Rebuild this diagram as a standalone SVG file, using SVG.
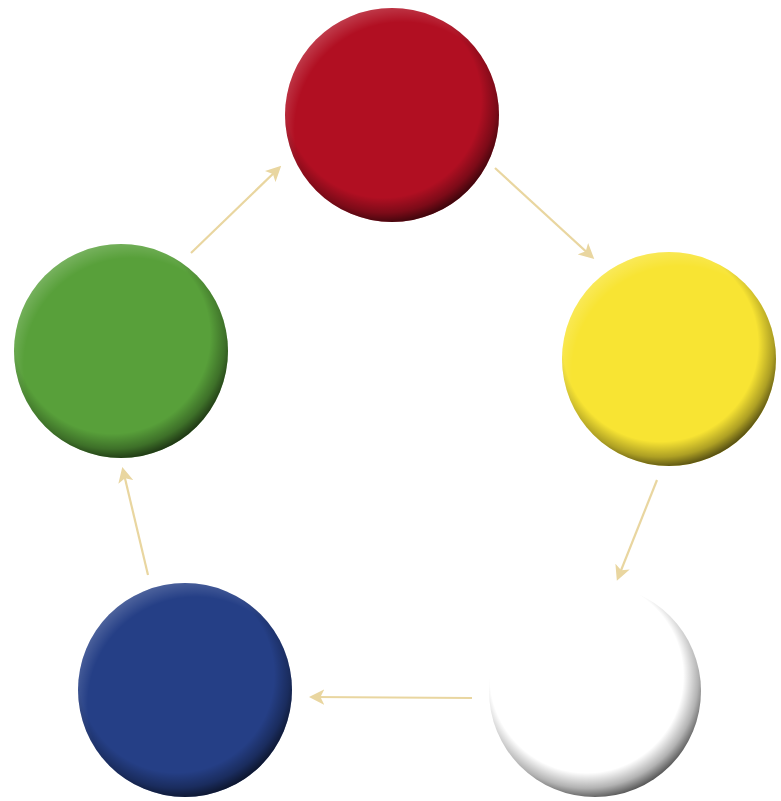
<svg xmlns="http://www.w3.org/2000/svg" width="781" height="801" viewBox="0 0 781 801">
<style>
.conn{stroke:#e9d6a0;stroke-width:2.2;fill:none;marker-end:url(#ah)}
.shade{fill:url(#shade)}
.hl{fill:url(#hl)}
</style>
<defs>
<marker id="ah" viewBox="0 0 10 10" refX="8" refY="5" markerWidth="7" markerHeight="7" orient="auto" markerUnits="strokeWidth">
<path d="M0,0 L10,5 L0,10 L2.5,5 Z" fill="#e9d6a0"/>
</marker>
<radialGradient id="shade" cx="0.46" cy="0.43" r="0.6">
<stop offset="0" stop-color="#000" stop-opacity="0"/>
<stop offset="0.76" stop-color="#000" stop-opacity="0"/>
<stop offset="0.88" stop-color="#000" stop-opacity="0.3"/>
<stop offset="1" stop-color="#000" stop-opacity="0.8"/>
</radialGradient>
<radialGradient id="hl" cx="0.55" cy="0.57" r="0.6">
<stop offset="0" stop-color="#fff" stop-opacity="0"/>
<stop offset="0.84" stop-color="#fff" stop-opacity="0"/>
<stop offset="1" stop-color="#fff" stop-opacity="0.22"/>
</radialGradient>
</defs>
<rect width="781" height="801" fill="#fff"/>
<g id="connectors">
<line class="conn" x1="191" y1="253" x2="279" y2="168"/>
<line class="conn" x1="495" y1="168" x2="592" y2="257"/>
<line class="conn" x1="657" y1="480" x2="618" y2="578"/>
<line class="conn" x1="472" y1="698" x2="312" y2="697"/>
<line class="conn" x1="148" y1="575" x2="123" y2="470"/>
</g>
<g id="red">
<circle cx="392" cy="115" r="107" fill="#b10f22"/>
<circle cx="392" cy="115" r="107" class="hl"/>
<circle cx="392" cy="115" r="107" class="shade"/>
</g>
<g id="yellow">
<circle cx="669" cy="359" r="107" fill="#f8e433"/>
<circle cx="669" cy="359" r="107" class="hl"/>
<circle cx="669" cy="359" r="107" class="shade"/>
</g>
<g id="white">
<circle cx="595" cy="691" r="106" fill="#fff"/>
<circle cx="595" cy="691" r="106" class="shade"/>
</g>
<g id="blue">
<circle cx="185" cy="690" r="107" fill="#253f86"/>
<circle cx="185" cy="690" r="107" class="hl"/>
<circle cx="185" cy="690" r="107" class="shade"/>
</g>
<g id="green">
<circle cx="121" cy="351" r="107" fill="#58a03a"/>
<circle cx="121" cy="351" r="107" class="hl"/>
<circle cx="121" cy="351" r="107" class="shade"/>
</g>
</svg>
